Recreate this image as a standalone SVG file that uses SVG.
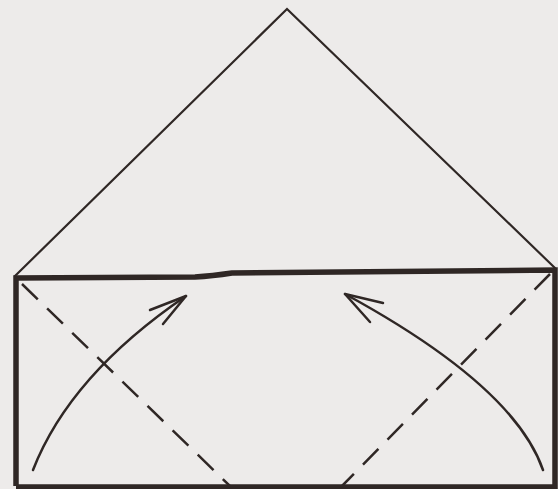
<svg xmlns="http://www.w3.org/2000/svg" width="558" height="489" viewBox="0 0 558 489">
<style>
.thin{fill:none;stroke:#2f2725;stroke-width:2.2;stroke-linejoin:miter;stroke-linecap:round}
.thick{fill:none;stroke:#2f2725;stroke-width:5.5;stroke-linejoin:miter}
.dash{fill:none;stroke:#2f2725;stroke-width:2.5;stroke-dasharray:22 13}
.arr{fill:none;stroke:#2f2725;stroke-width:2.5;stroke-linecap:round;stroke-linejoin:round}
</style>
<rect width="558" height="489" fill="#edebea"/>
<g id="triangle">
<polyline class="thin" points="15,276 287,9 555,268"/>
</g>
<g id="rectangle">
<path class="thick" d="M16,486 L16,278 L195,277 Q212,276 232,273 L555,270 L555,487 L16,487"/>
</g>
<g id="connectors">
<line class="dash" x1="22" y1="284" x2="232" y2="488"/>
<line class="dash" x1="550" y1="274" x2="340" y2="488"/>
<path class="arr" d="M33,470 Q70,375 186,296"/>
<polyline class="arr" points="150,310 186,296 163,324"/>
<path class="arr" d="M543,470 Q514,386 345,294"/>
<polyline class="arr" points="383,303 345,294 370,322"/>
</g>
</svg>
